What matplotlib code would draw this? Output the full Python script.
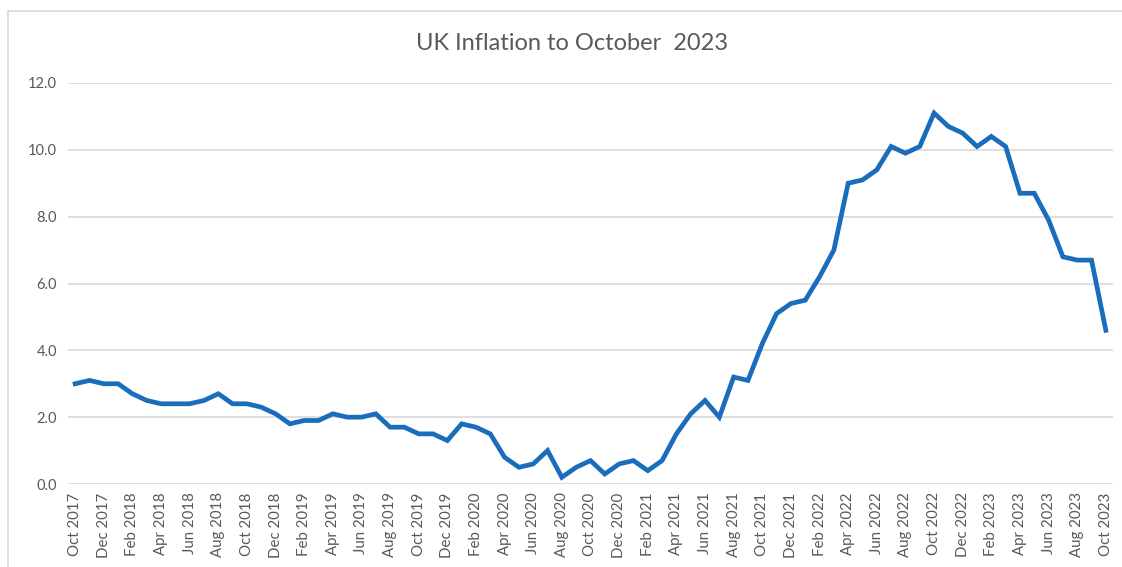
import matplotlib.pyplot as plt
import matplotlib.patches as mpatches

# UK CPI annual rate, Oct 2017 - Oct 2023
months = ["Jan", "Feb", "Mar", "Apr", "May", "Jun", "Jul", "Aug", "Sep", "Oct", "Nov", "Dec"]
inflation = [3.0, 3.1, 3.0,
	3.0, 2.7, 2.5, 2.4, 2.4, 2.4, 2.5, 2.7, 2.4, 2.4, 2.3, 2.1,
	1.8, 1.9, 1.9, 2.1, 2.0, 2.0, 2.1, 1.7, 1.7, 1.5, 1.5, 1.3,
	1.8, 1.7, 1.5, 0.8, 0.5, 0.6, 1.0, 0.2, 0.5, 0.7, 0.3, 0.6,
	0.7, 0.4, 0.7, 1.5, 2.1, 2.5, 2.0, 3.2, 3.1, 4.2, 5.1, 5.4,
	5.5, 6.2, 7.0, 9.0, 9.1, 9.4, 10.1, 9.9, 10.1, 11.1, 10.7, 10.5,
	10.1, 10.4, 10.1, 8.7, 8.7, 7.9, 6.8, 6.7, 6.7, 4.6]
yticks = [0, 2, 4, 6, 8, 10, 12]

labels = []
for i in range(len(inflation)):
	m = 9 + i
	labels.append("{} {}".format(months[m % 12], 2017 + m // 12))

plt.rcParams['font.family'] = ['Lato', 'DejaVu Sans']

fig = plt.figure(figsize=(11.22, 5.67), dpi=100)
ax = fig.add_axes([68 / 1122, 1 - 484 / 567, (1113 - 68) / 1122, (484 - 83) / 567])

# outer chart border (only top/left visible in the crop)
fig.patches.append(mpatches.Rectangle((8 / 1122, -0.1), 1.2, 1 - 11 / 567 + 0.1,
	transform=fig.transFigure, fill=False, edgecolor="#d9d9d9", linewidth=1.2))

x = list(range(len(inflation)))
ax.plot(x, inflation, color="#1a6cbc", linewidth=3.4, solid_joinstyle="miter")

ax.set_xlim(-0.5, len(inflation) - 0.5)
ax.set_ylim(0, 12)
ax.set_yticks(yticks)
ax.set_yticklabels(["{:.1f}".format(v) for v in yticks], fontsize=10.5, color="#595959")
ax.set_xticks(x[::2])
ax.set_xticklabels(labels[::2], rotation=90, fontsize=10.8, color="#595959")
ax.tick_params(length=0, pad=8)
ax.tick_params(axis="x", pad=6)
ax.grid(axis="y", color="#d9d9d9", linewidth=1.2)
ax.set_axisbelow(True)
for s in ax.spines.values():
	s.set_visible(False)

fig.text(572 / 1122, 1 - 44 / 567, "UK Inflation to October  2023", ha="center", va="center",
	fontsize=17, color="#595959")

fig.savefig("out.png", dpi=100)
